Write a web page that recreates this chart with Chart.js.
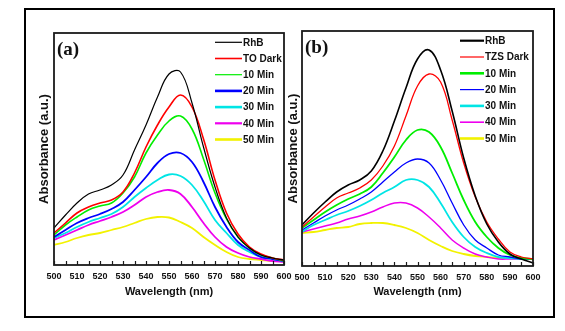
<!DOCTYPE html>
<html>
<head>
<meta charset="utf-8">
<script src="https://cdn.jsdelivr.net/npm/chart.js@4/dist/chart.umd.min.js"></script>
<style>
  html, body { margin: 0; padding: 0; background: #fff; }
  #wrap { position: relative; width: 565px; height: 331px; overflow: hidden; }
  #frame { position: absolute; left: 24px; top: 8px; width: 531px; height: 310px;
           box-sizing: border-box; border: 2px solid #000; }
  canvas { position: absolute; top: 0; }
  #chartA { left: 0; }
  #chartB { left: 280px; }
</style>
</head>
<body>
<div id="wrap">
  <div id="frame"></div>
  <canvas id="chartA" width="310" height="331"></canvas>
  <canvas id="chartB" width="285" height="331"></canvas>
</div>
<script>
// wavelength grid (nm)
const wavelengths = [500, 505, 510, 515, 520, 525, 530, 535, 540, 545, 550,
                     555, 560, 565, 570, 575, 580, 585, 590, 595, 600];
const xTicks = [500, 510, 520, 530, 540, 550, 560, 570, 580, 590, 600];

// (a) TO catalyst
const labelsA = ['RhB', 'TO Dark', '10 Min', '20 Min', '30 Min', '40 Min', '50 Min'];
const a_rhb    = [0.37, 0.50, 0.62, 0.71, 0.75, 0.80, 0.90, 1.15, 1.40, 1.68, 1.91, 1.93, 1.62, 1.18, 0.78, 0.47, 0.28, 0.17, 0.10, 0.07, 0.05];
const a_dark   = [0.32, 0.42, 0.52, 0.58, 0.62, 0.65, 0.73, 0.92, 1.18, 1.40, 1.58, 1.70, 1.58, 1.26, 0.85, 0.52, 0.31, 0.18, 0.11, 0.07, 0.05];
const a_10     = [0.30, 0.40, 0.48, 0.55, 0.59, 0.62, 0.72, 0.88, 1.12, 1.30, 1.44, 1.49, 1.36, 1.06, 0.72, 0.46, 0.28, 0.17, 0.10, 0.07, 0.04];
const a_20     = [0.28, 0.35, 0.42, 0.47, 0.51, 0.56, 0.63, 0.75, 0.88, 1.02, 1.11, 1.12, 1.03, 0.83, 0.58, 0.38, 0.23, 0.15, 0.08, 0.06, 0.04];
const a_30     = [0.27, 0.32, 0.38, 0.43, 0.47, 0.51, 0.58, 0.68, 0.77, 0.85, 0.905, 0.89, 0.80, 0.64, 0.45, 0.32, 0.20, 0.13, 0.08, 0.06, 0.04];
const a_40     = [0.25, 0.30, 0.35, 0.40, 0.44, 0.48, 0.53, 0.60, 0.68, 0.73, 0.75, 0.71, 0.58, 0.42, 0.28, 0.18, 0.12, 0.08, 0.06, 0.04, 0.03];
const a_50     = [0.20, 0.23, 0.27, 0.30, 0.32, 0.35, 0.38, 0.42, 0.46, 0.48, 0.475, 0.43, 0.37, 0.28, 0.20, 0.13, 0.08, 0.06, 0.05, 0.04, 0.04];

// (b) TZS catalyst
const labelsB = ['RhB', 'TZS Dark', '10 Min', '20 Min', '30 Min', '40 Min', '50 Min'];
const b_rhb    = [0.41, 0.53, 0.64, 0.74, 0.81, 0.86, 0.95, 1.15, 1.45, 1.78, 2.07, 2.16, 1.96, 1.55, 1.08, 0.70, 0.42, 0.24, 0.12, 0.07, 0.03];
const b_dark   = [0.39, 0.49, 0.59, 0.68, 0.73, 0.78, 0.86, 1.00, 1.20, 1.50, 1.80, 1.92, 1.84, 1.46, 1.03, 0.69, 0.44, 0.27, 0.14, 0.09, 0.07];
const b_10     = [0.38, 0.46, 0.54, 0.61, 0.67, 0.72, 0.79, 0.93, 1.09, 1.26, 1.36, 1.34, 1.19, 0.93, 0.66, 0.44, 0.29, 0.18, 0.11, 0.08, 0.07];
const b_20     = [0.36, 0.43, 0.50, 0.56, 0.61, 0.67, 0.74, 0.84, 0.94, 1.03, 1.07, 1.03, 0.86, 0.63, 0.41, 0.26, 0.18, 0.11, 0.09, 0.07, 0.07];
const b_30     = [0.34, 0.41, 0.46, 0.51, 0.55, 0.60, 0.66, 0.73, 0.79, 0.86, 0.86, 0.79, 0.63, 0.44, 0.29, 0.19, 0.13, 0.09, 0.08, 0.07, 0.07];
const b_40     = [0.34, 0.37, 0.40, 0.43, 0.47, 0.50, 0.54, 0.59, 0.63, 0.63, 0.58, 0.49, 0.38, 0.26, 0.18, 0.12, 0.09, 0.07, 0.07, 0.07, 0.07];
const b_50     = [0.33, 0.34, 0.36, 0.38, 0.39, 0.42, 0.43, 0.43, 0.41, 0.38, 0.33, 0.26, 0.20, 0.15, 0.12, 0.10, 0.09, 0.08, 0.08, 0.07, 0.07];

const colors = ['#000000', '#ff0000', '#00ee00', '#0000ff', '#00e5e5', '#ee00ee', '#f2f200'];
const widthsA = [1.2, 1.6, 1.6, 1.8, 1.8, 1.8, 1.8];
const widthsB = [1.6, 1.3, 1.8, 1.3, 1.8, 1.5, 1.8];
const legendWidthsA = [1.2, 1.6, 1.2, 2.6, 2.6, 2.2, 2.6];
const legendWidthsB = [2.2, 1.2, 2.6, 1.2, 2.6, 1.6, 2.6];

const toPoints = (vals) => vals.map((v, i) => ({ x: wavelengths[i], y: v }));

// box around the plot area, inward ticks on the wavelength axis,
// the panel letter and the in-plot legend
const panelDecor = {
  id: 'panelDecor',
  afterDraw(chart, args, opts) {
    const { ctx, chartArea: ca, scales } = chart;
    ctx.save();
    ctx.strokeStyle = '#1a1a1a';
    ctx.lineWidth = 1.8;
    ctx.strokeRect(ca.left, ca.top, ca.right - ca.left, ca.bottom - ca.top);

    ctx.lineWidth = 1.2;
    for (let w = 500; w <= 600; w += 5) {
      const px = Math.round(scales.x.getPixelForValue(w)) + 0.5;
      ctx.beginPath();
      ctx.moveTo(px, ca.bottom);
      ctx.lineTo(px, ca.bottom - 4);
      ctx.stroke();
    }

    ctx.fillStyle = '#111';
    ctx.font = 'bold 19px "Liberation Serif"';
    ctx.textBaseline = 'middle';
    ctx.textAlign = 'left';
    ctx.fillText(opts.letter, ca.left + opts.letterDx, ca.top + 17);

    ctx.font = 'bold 10px "Liberation Sans"';
    chart.data.datasets.forEach((ds, i) => {
      const y = ca.top + opts.rowTop + i * opts.rowGap;
      ctx.strokeStyle = ds.borderColor;
      ctx.lineWidth = opts.legendWidths[i];
      ctx.beginPath();
      ctx.moveTo(ca.right - opts.lineFrom, y);
      ctx.lineTo(ca.right - opts.lineTo, y);
      ctx.stroke();
      ctx.fillStyle = '#111';
      ctx.fillText(ds.label, ca.right - opts.lineTo + 1, y + 0.5);
    });
    ctx.restore();
  }
};

function makePanel(canvasId, labels, series, widths, yMax, layout, decor) {
  const datasets = series.map((vals, i) => ({
    label: labels[i],
    data: toPoints(vals),
    borderColor: colors[i],
    borderWidth: widths[i],
    pointRadius: 0,
    fill: false,
    tension: 0.4,
  }));

  return new Chart(document.getElementById(canvasId), {
    type: 'line',
    data: { datasets },
    plugins: [panelDecor],
    options: {
      responsive: false,
      animation: false,
      devicePixelRatio: 1,
      layout: { padding: layout.padding },
      plugins: {
        legend: { display: false },
        tooltip: { enabled: false },
        panelDecor: decor,
      },
      scales: {
        x: {
          type: 'linear',
          min: 500,
          max: 600,
          afterBuildTicks: (scale) => { scale.ticks = xTicks.map((v) => ({ value: v })); },
          afterFit: (scale) => { scale.height = layout.xHeight; },
          grid: { display: false, drawTicks: false },
          border: { display: false },
          ticks: {
            color: '#111',
            padding: 6,
            maxRotation: 0,
            autoSkip: false,
            font: { family: 'Liberation Sans', size: 9, weight: 'bold' },
          },
          title: {
            display: true,
            text: 'Wavelength (nm)',
            color: '#111',
            padding: { top: 0, bottom: 32 },
            font: { family: 'Liberation Sans', size: 11, weight: 'bold' },
          },
        },
        y: {
          min: 0,
          max: yMax,
          afterFit: (scale) => { scale.width = layout.yWidth; },
          grid: { display: false, drawTicks: false },
          border: { display: false },
          ticks: { display: false },
          title: {
            display: true,
            text: 'Absorbance (a.u.)',
            color: '#111',
            padding: { top: layout.yTitlePad, bottom: 0 },
            font: { family: 'Liberation Sans', size: 13, weight: 'bold' },
          },
        },
      },
    },
  });
}

makePanel('chartA', labelsA, [a_rhb, a_dark, a_10, a_20, a_30, a_40, a_50], widthsA, 2.32,
  { padding: { top: 33, right: 26, left: 0, bottom: 0 }, xHeight: 66, yWidth: 54, yTitlePad: 37 },
  { letter: '(a)', letterDx: 3, rowTop: 9.3, rowGap: 16.2, lineFrom: 69, lineTo: 42, legendWidths: legendWidthsA });

makePanel('chartB', labelsB, [b_rhb, b_dark, b_10, b_20, b_30, b_40, b_50], widthsB, 2.35,
  { padding: { top: 31, right: 32, left: 0, bottom: 0 }, xHeight: 65, yWidth: 22, yTitlePad: 6 },
  { letter: '(b)', letterDx: 3, rowTop: 9.7, rowGap: 16.3, lineFrom: 73, lineTo: 49, legendWidths: legendWidthsB });
</script>
</body>
</html>
